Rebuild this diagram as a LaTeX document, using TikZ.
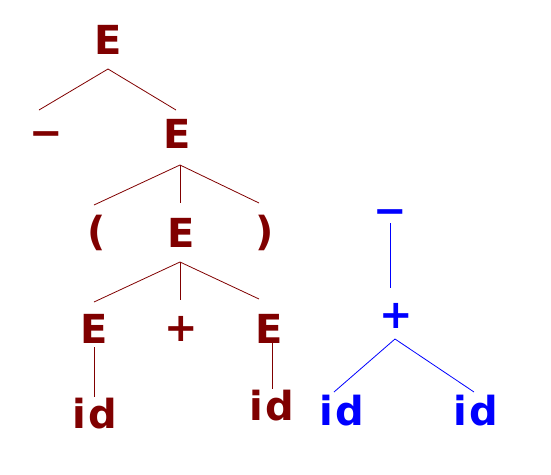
\documentclass[tikz,border=0pt]{standalone}
\usepackage{fontspec}
\setmainfont{DejaVu Sans}
\usetikzlibrary{calc}
\definecolor{tred}{RGB}{128,0,0}
\definecolor{tblue}{RGB}{0,0,255}
\newcommand{\idtxt}{i\kern2pt d}
\begin{document}
\begin{tikzpicture}[x=1pt,y=-1pt,
  sym/.style={inner sep=0pt,anchor=base,font=\fontsize{40}{48}\selectfont\bfseries},
  rsym/.style={sym,text=tred},
  bsym/.style={sym,text=tblue},
  rl/.style={draw=tred,line width=0.8pt},
  bl/.style={draw=tblue,line width=0.8pt}]
\useasboundingbox (0,0) rectangle (551,474);
% red parse tree
\node[rsym] (E1) at (108,54) {E};
\node[rsym] (m1) at (46,146) {−};
\node[rsym] (E2) at (177,148) {E};
\node[rsym] (lp) at (97,245) {(};
\node[rsym] (E3) at (181,247) {E};
\node[rsym] (rp) at (265,245) {)};
\node[rsym] (E4) at (94,343) {E};
\node[rsym] (pl) at (181,341) {+};
\node[rsym] (E5) at (269,343) {E};
\node[rsym] (id1) at (95,428) {\idtxt};
\node[rsym] (id2) at (272,420) {\idtxt};
\draw[rl] ($(m1.base)+(-7,-36)$) -- ($(E1.base)+(0,15)$) -- ($(E2.base)+(-1,-38)$);
\draw[rl] ($(lp.base)+(-3,-40)$) -- ($(E2.base)+(3,17)$) -- ($(rp.base)+(-6,-42)$);
\draw[rl] ($(E2.base)+(3,17)$) -- ($(E3.base)+(-1,-44)$);
\draw[rl] ($(E4.base)+(0,-41)$) -- ($(E3.base)+(-1,15)$) -- ($(E5.base)+(-10,-44)$);
\draw[rl] ($(E3.base)+(-1,15)$) -- ($(pl.base)+(-1,-41)$);
\draw[rl] ($(E4.base)+(0,4)$) -- ($(id1.base)+(-1,-31)$);
\draw[rl] ($(E5.base)+(3,-5)$) -- ($(id2.base)+(0,-31)$);
% blue syntax tree
\node[bsym] (bm) at (390,224) {−};
\node[bsym] (bp) at (396,328) {+};
\node[bsym] (id3) at (342,425) {\idtxt};
\node[bsym] (id4) at (476,425) {\idtxt};
\draw[bl] ($(bm.base)+(0,-1)$) -- ($(bp.base)+(-6,-40)$);
\draw[bl] ($(id3.base)+(-8,-33)$) -- ($(bp.base)+(-1,11)$) -- ($(id4.base)+(-2,-33)$);
\end{tikzpicture}
\end{document}
